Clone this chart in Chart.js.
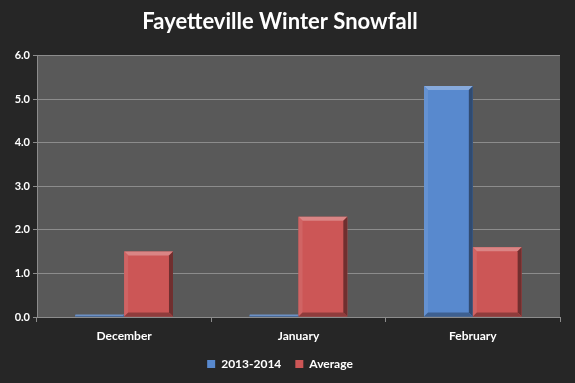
<!DOCTYPE html>
<html>
<head>
<meta charset="utf-8">
<script src="https://cdn.jsdelivr.net/npm/chart.js@4/dist/chart.umd.min.js"></script>
<style>
html,body{margin:0;padding:0;background:#262626;}
#wrap{width:575px;height:383px;position:relative;}
</style>
</head>
<body>
<div id="wrap"><canvas id="c" width="575" height="383"></canvas></div>
<script>
const categories = ['December', 'January', 'February'];
const series2013 = [0.05, 0.05, 5.3];
const seriesAverage = [1.5, 2.3, 1.6];
const seriesNames = ['2013-2014', 'Average'];
const yTicks = [0, 1, 2, 3, 4, 5, 6];

function shade(hex, amt) {
  const n = parseInt(hex.slice(1), 16);
  let r = (n >> 16) & 255, g = (n >> 8) & 255, b = n & 255;
  const f = v => Math.max(0, Math.min(255, Math.round(amt >= 0 ? v + (255 - v) * amt : v * (1 + amt))));
  return `rgb(${f(r)},${f(g)},${f(b)})`;
}

const bevelPlugin = {
  id: 'bevel',
  afterDatasetsDraw(chart) {
    const ctx = chart.ctx;
    chart.data.datasets.forEach((ds, di) => {
      const meta = chart.getDatasetMeta(di);
      if (meta.hidden) return;
      meta.data.forEach(el => {
        const p = el.getProps(['x', 'y', 'base', 'width'], true);
        const l = p.x - p.width / 2, r = p.x + p.width / 2;
        const t = Math.min(p.y, p.base), btm = Math.max(p.y, p.base);
        const h = btm - t;
        const b = Math.min(4, h / 2, p.width / 2);
        const col = ds.backgroundColor;
        ctx.save();
        ctx.fillStyle = shade(col, 0.28);
        ctx.beginPath(); ctx.moveTo(l, t); ctx.lineTo(r, t); ctx.lineTo(r - b, t + b); ctx.lineTo(l + b, t + b); ctx.closePath(); ctx.fill();
        ctx.fillStyle = shade(col, 0.08);
        ctx.beginPath(); ctx.moveTo(l, t); ctx.lineTo(l + b, t + b); ctx.lineTo(l + b, btm - b); ctx.lineTo(l, btm); ctx.closePath(); ctx.fill();
        ctx.fillStyle = shade(col, -0.45);
        ctx.beginPath(); ctx.moveTo(r, t); ctx.lineTo(r, btm); ctx.lineTo(r - b, btm - b); ctx.lineTo(r - b, t + b); ctx.closePath(); ctx.fill();
        ctx.fillStyle = shade(col, -0.3);
        ctx.beginPath(); ctx.moveTo(l, btm); ctx.lineTo(r, btm); ctx.lineTo(r - b, btm - b); ctx.lineTo(l + b, btm - b); ctx.closePath(); ctx.fill();
        ctx.restore();
      });
    });
  }
};

const plotBg = {
  id: 'plotBg',
  beforeDraw(chart) {
    const a = chart.chartArea, ctx = chart.ctx;
    ctx.save();
    ctx.fillStyle = '#262626';
    ctx.fillRect(0, 0, chart.width, chart.height);
    ctx.fillStyle = '#595959';
    ctx.fillRect(a.left, a.top, a.right - a.left, a.bottom - a.top);
    ctx.restore();
  }
};

const FONT = 'Lato, "Open Sans", "Liberation Sans", sans-serif';

new Chart(document.getElementById('c'), {
  type: 'bar',
  data: {
    labels: categories,
    datasets: [
      { label: seriesNames[0], data: series2013, backgroundColor: '#5889CE', borderWidth: 0 },
      { label: seriesNames[1], data: seriesAverage, backgroundColor: '#CC5656', borderWidth: 0 }
    ]
  },
  options: {
    responsive: false,
    animation: false,
    devicePixelRatio: 1,
    layout: { padding: { left: 0, right: 15, top: 0, bottom: 3 } },
    datasets: { bar: { barPercentage: 1.0, categoryPercentage: 0.56 } },
    plugins: {
      title: {
        display: true,
        text: 'Fayetteville Winter Snowfall',
        color: '#ffffff',
        font: { family: FONT, size: 22, weight: 'bold', lineHeight: 1.2 },
        padding: { top: 9, bottom: 20 }
      },
      legend: {
        position: 'bottom',
        labels: {
          color: '#ffffff',
          font: { family: FONT, size: 12, weight: 'bold' },
          boxWidth: 8, boxHeight: 8, padding: 14
        }
      },
      tooltip: { enabled: false }
    },
    scales: {
      x: {
        grid: { display: true, drawOnChartArea: false, drawTicks: true, tickLength: 5, color: '#8c8c8c', offset: true },
        border: { color: '#8c8c8c' },
        ticks: { color: '#ffffff', font: { family: FONT, size: 12, weight: 'bold' }, padding: 7 },
        afterFit(s) { s.height = 27; }
      },
      y: {
        min: 0, max: 6,
        afterBuildTicks(s) { s.ticks = yTicks.map(v => ({ value: v })); },
        grid: { color: '#8c8c8c', tickLength: 4, drawTicks: true },
        border: { color: '#8c8c8c' },
        ticks: { color: '#ffffff', font: { family: FONT, size: 11, weight: 'bold' }, padding: 3,
          callback: v => Number(v).toFixed(1) },
        afterFit(s) { s.width = 37; }
      }
    }
  },
  plugins: [plotBg, bevelPlugin]
});
</script>
</body>
</html>
